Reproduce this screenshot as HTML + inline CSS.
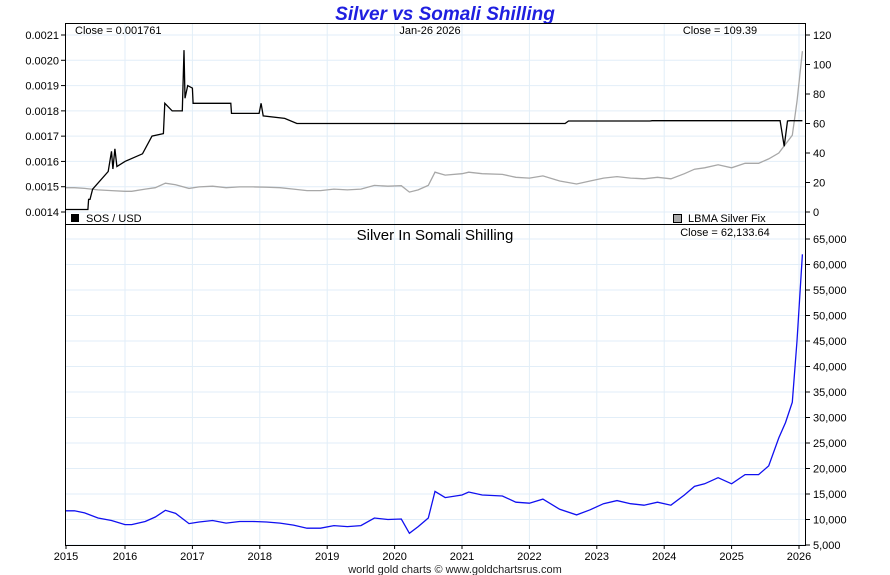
<!DOCTYPE html>
<html><head><meta charset="utf-8">
<style>
html,body{margin:0;padding:0;background:#fff;}
svg{display:block;font-family:"Liberation Sans",sans-serif;}
</style></head>
<body>
<svg id="chart" width="890" height="575" viewBox="0 0 890 575">
<text x="445" y="20" text-anchor="middle" font-size="19" font-weight="bold" font-style="italic" fill="#1f1fe0">Silver vs Somali Shilling</text>
<g id="grid"></g>
<g id="axes"></g>
<g id="series"></g>
<rect x="65.5" y="23.5" width="740" height="201" fill="none" stroke="#000"/>
<rect x="65.5" y="224.5" width="740" height="321" fill="none" stroke="#000"/>
<text x="75" y="34" font-size="11">Close = 0.001761</text>
<text x="430" y="34" text-anchor="middle" font-size="11">Jan-26  2026</text>
<text x="720" y="34" text-anchor="middle" font-size="11">Close = 109.39</text>
<rect x="71" y="214" width="8" height="8" fill="#000"/>
<text x="86" y="222" font-size="11">SOS / USD</text>
<rect x="673.5" y="214.5" width="8" height="8" fill="#aaa" stroke="#000"/>
<text x="688" y="222" font-size="11">LBMA Silver Fix</text>
<text x="435" y="240" text-anchor="middle" font-size="15">Silver In Somali Shilling</text>
<text x="725" y="236" text-anchor="middle" font-size="11">Close = 62,133.64</text>
<text x="455" y="573" text-anchor="middle" font-size="11" fill="#222">world gold charts © www.goldchartsrus.com</text>
</svg>
<script>
const years=[2015,2016,2017,2018,2019,2020,2021,2022,2023,2024,2025,2026];
const leftTicks=[0.0014,0.0015,0.0016,0.0017,0.0018,0.0019,0.0020,0.0021];
const rightTicks=[0,20,40,60,80,100,120];
const bottomTicks=[5000,10000,15000,20000,25000,30000,35000,40000,45000,50000,55000,60000,65000];
const sosT=[2015.12,2015.45,2015.46,2015.48,2015.52,2015.75,2015.8,2015.82,2015.85,2015.88,2016.0,2016.26,2016.4,2016.57,2016.59,2016.7,2016.74,2016.85,2016.875,2016.89,2016.93,2017.0,2017.01,2017.57,2017.58,2017.99,2018.02,2018.05,2018.37,2018.55,2020,2022.53,2022.58,2023.79,2023.82,2025.72,2025.78,2025.83,2025.87,2026.05];
const sosV=[0.00141,0.00141,0.00145,0.00145,0.00149,0.00156,0.00164,0.00157,0.00165,0.00158,0.0016,0.00163,0.0017,0.00171,0.00183,0.0018,0.0018,0.0018,0.00204,0.00185,0.0019,0.00189,0.00183,0.00183,0.00179,0.00179,0.00183,0.00178,0.00177,0.00175,0.00175,0.00175,0.00176,0.00176,0.001761,0.001761,0.00166,0.00176,0.001761,0.001761];
const agT=[2015.12,2015.25,2015.4,2015.6,2015.8,2016.0,2016.1,2016.3,2016.45,2016.6,2016.75,2016.95,2017.1,2017.3,2017.5,2017.7,2017.9,2018.1,2018.3,2018.5,2018.7,2018.9,2019.1,2019.3,2019.5,2019.7,2019.9,2020.1,2020.22,2020.35,2020.5,2020.6,2020.75,2021.0,2021.1,2021.3,2021.6,2021.8,2022.0,2022.2,2022.45,2022.7,2022.9,2023.1,2023.3,2023.5,2023.7,2023.9,2024.1,2024.3,2024.45,2024.6,2024.8,2025.0,2025.2,2025.4,2025.55,2025.7,2025.8,2025.9,2025.97,2026.05];
const agV=[16.5,16.5,16,15,14.5,14,14,15.5,16.5,19.5,18.5,16,17,17.5,16.5,17,17,16.8,16.5,15.5,14.5,14.5,15.5,15,15.5,18,17.5,17.8,13.5,15,18,27,25,26,27,26,25.5,23.5,23,24.5,21,19,21,23,24,23,22.5,23.5,22.5,26,29,30,32,30,33,33,36,40,46,52,75,109];
const slvV=[11700,11700,11300,10300,9800,9000,9000,9600,10500,11800,11200,9200,9500,9800,9300,9600,9600,9500,9300,8900,8300,8300,8800,8600,8800,10300,10000,10100,7300,8600,10300,15500,14300,14800,15400,14800,14600,13400,13200,14000,12000,10900,11900,13100,13700,13100,12800,13400,12800,14800,16500,17000,18200,17000,18800,18800,20500,26000,29000,33000,45000,62000];
const X=y=>Math.max(66,125+(y-2016)*67.4);
const YL=v=>212-(v-0.0014)*177/0.0007;
const YR=v=>212-v*177/120;
const YB=v=>545-(v-5000)*306/60000;
const NS="http://www.w3.org/2000/svg";
function mk(parent,tag,attrs){const e=document.createElementNS(NS,tag);for(const k in attrs)e.setAttribute(k,attrs[k]);document.getElementById(parent).appendChild(e);return e;}
years.forEach(y=>{
  const x=X(y);
  if(y>2015){
    let g=mk('grid','line',{x1:x,x2:x,y1:24,y2:545,stroke:'#e2eef8'});
    
    
  }
  let t=mk('axes','line',{x1:x,x2:x,y1:545,y2:549,stroke:'#000'});
  
  
  let l=mk('axes','text',{x:x,y:560,'text-anchor':'middle','font-size':11});
  l.textContent=y;
  
  
});
leftTicks.forEach(v=>{
  const y=YL(v);
  let g=mk('grid','line',{x1:66,x2:805,y1:y,y2:y,stroke:'#e2eef8'});
  
  
  let t=mk('axes','line',{x1:61,x2:65,y1:y,y2:y,stroke:'#000'});
  
  
  let l=mk('axes','text',{x:59,y:y+4,'text-anchor':'end','font-size':11});
  l.textContent=v.toFixed(4);
  
  
});
rightTicks.forEach(v=>{
  const y=YR(v);
  let t=mk('axes','line',{x1:806,x2:810,y1:y,y2:y,stroke:'#000'});
  
  
  let l=mk('axes','text',{x:813,y:y+4,'font-size':11});
  l.textContent=v;
  
  
});
bottomTicks.forEach(v=>{
  const y=YB(v);
  let g=mk('grid','line',{x1:66,x2:805,y1:y,y2:y,stroke:'#e2eef8'});
  
  
  let t=mk('axes','line',{x1:806,x2:810,y1:y,y2:y,stroke:'#000'});
  
  
  let l=mk('axes','text',{x:813,y:y+4,'font-size':11});
  l.textContent=v.toLocaleString('en-US');
  
  
});
function line(ts,vs,fy,color,name){
  const d=ts.map((t,i)=>(i?'L':'M')+X(t).toFixed(1)+','+fy(vs[i]).toFixed(1)).join('');
  const p=mk('series','path',{d:d,fill:'none',stroke:color,'stroke-width':1.3});
  
  
}
line(agT,agV,YR,'#a8a8a8','lbma-silver-line');
line(sosT,sosV,YL,'#000','sos-usd-line');
line(agT,slvV,YB,'#1010f0','silver-in-sos-line');
</script>
</body></html>
